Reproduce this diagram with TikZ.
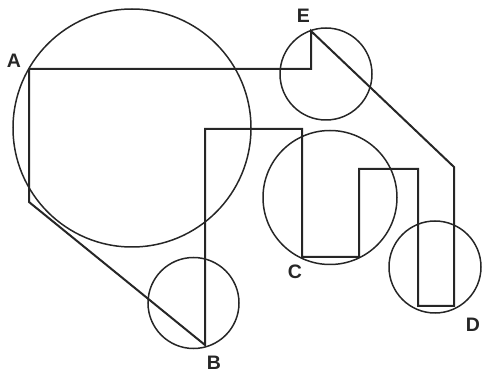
\documentclass[tikz,border=0pt]{standalone}
\usepackage{fontspec}
\setmainfont{Liberation Sans}
\begin{document}
\begin{tikzpicture}[x=1pt,y=-1pt,
  ring/.style={draw=black!85,line width=1.5pt},
  route/.style={draw=black!85,line width=2pt,line join=miter},
  lbl/.style={font=\bfseries\fontsize{19.5}{19.5}\selectfont,text=black!85,inner sep=0pt}]
\useasboundingbox (0,0) rectangle (483,377);
\draw[ring] (132,128) circle (119);
\draw[ring] (326,74) circle (46);
\draw[ring] (330,197.5) circle (67);
\draw[ring] (193.5,303) circle (45.5);
\draw[ring] (435,267) circle (46);
\coordinate (A) at (29,69);
\coordinate (E) at (311,31);
\coordinate (B) at (205,345);
\coordinate (p1) at (311,69);
\coordinate (p2) at (454,167);
\coordinate (D) at (454,306);
\coordinate (p3) at (418,306);
\coordinate (p4) at (418,169);
\coordinate (p5) at (359,169);
\coordinate (p6) at (359,257);
\coordinate (C) at (302,257);
\coordinate (p7) at (302,129);
\coordinate (p8) at (205,129);
\coordinate (p9) at (29,202);
\draw[route] (A) -- (p1) -- (E) -- (p2) -- (D) -- (p3) -- (p4) -- (p5) -- (p6) -- (C) -- (p7) -- (p8) -- (B) -- (p9) -- cycle;
\node[lbl] (lA) at (14,60.5) {A};
\node[lbl] (lE) at (303.5,16) {E};
\node[lbl] (lB) at (214,363) {B};
\node[lbl] (lC) at (295,272) {C};
\node[lbl] (lD) at (473,325) {D};
\end{tikzpicture}
\end{document}
